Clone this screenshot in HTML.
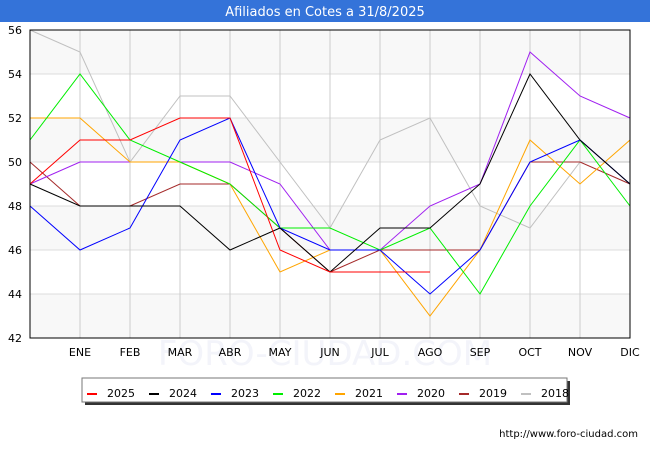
<!DOCTYPE html>
<html><head><meta charset="utf-8"><style>
body{margin:0;background:#fff;font-family:"Liberation Sans","DejaVu Sans",sans-serif}
#wrap{position:relative;width:650px;height:450px}
</style></head><body>
<div id="wrap">
<svg id="chart" width="650" height="450" xmlns="http://www.w3.org/2000/svg">
<rect x="0" y="0" width="650" height="22" fill="#3473d9"/>
<text x="325" y="16" fill="#fff" font-size="13" text-anchor="middle" font-family="DejaVu Sans, sans-serif">Afiliados en Cotes a 31/8/2025</text>
<g id="plot"></g>
<text x="638" y="437" font-size="10" text-anchor="end" font-family="DejaVu Sans, sans-serif" fill="#000">http://www.foro-ciudad.com</text>
</svg>
</div>
<script>
const months = ["","ENE","FEB","MAR","ABR","MAY","JUN","JUL","AGO","SEP","OCT","NOV","DIC"];
const yTicks = [42,44,46,48,50,52,54,56];
const seriesNames = ["2025","2024","2023","2022","2021","2020","2019","2018"];
const seriesColors = ["#ff0000","#000000","#0000ff","#00ee00","#ffa500","#a020f0","#a52a2a","#c0c0c0"];
const s2025 = [49,51,51,52,52,46,45,45,45];
const s2024 = [49,48,48,48,46,47,45,47,47,49,54,51,49];
const s2023 = [48,46,47,51,52,47,46,46,44,46,50,51,49];
const s2022 = [51,54,51,50,49,47,47,46,47,44,48,51,48];
const s2021 = [52,52,50,50,49,45,46,46,43,46,51,49,51];
const s2020 = [49,50,50,50,50,49,46,46,48,49,55,53,52];
const s2019 = [50,48,48,49,49,47,45,46,46,46,50,50,49];
const s2018 = [56,55,50,53,53,50,47,51,52,48,47,50,50];
const allSeries = [s2025,s2024,s2023,s2022,s2021,s2020,s2019,s2018];

const NS="http://www.w3.org/2000/svg";
const L=30,R=630,T=30,B=338,yMin=42,yMax=56;
const x = i => L + i*(R-L)/12;
const y = v => B - (v-yMin)*(B-T)/(yMax-yMin);
const g=document.getElementById('plot');
function mk(tag,attrs){const e=document.createElementNS(NS,tag);for(const k in attrs)e.setAttribute(k,attrs[k]);g.appendChild(e);return e;}

for(let i=0;i<yTicks.length-1;i++){
  if(i%2===0){
    const b=mk('rect',{x:L,y:y(yTicks[i+1]),width:R-L,height:y(yTicks[i])-y(yTicks[i+1]),fill:'#f8f8f8'});
    
    
  }
}
const wm=mk('text',{x:325,y:365,'font-size':34,'text-anchor':'middle',fill:'#f3f4fa','font-family':'DejaVu Sans, sans-serif'});
wm.textContent='FORO-CIUDAD.COM';


yTicks.forEach(v=>{
  const l=mk('line',{x1:L,x2:R,y1:y(v),y2:y(v),stroke:'#dddddd','stroke-width':1});
  
  
  const t=mk('text',{x:L-8,y:y(v)+4,'font-size':11,'text-anchor':'end','font-family':'DejaVu Sans, sans-serif'});
  t.textContent=v;
  
  
});
months.forEach((m,i)=>{
  if(i>0){
    const l=mk('line',{x1:x(i),x2:x(i),y1:T,y2:B,stroke:'#cccccc','stroke-width':1});
    
    
    const t=mk('text',{x:x(i),y:356,'font-size':11,'text-anchor':'middle','font-family':'DejaVu Sans, sans-serif'});
    t.textContent=m;
    
    
  }
});

for(let s=allSeries.length-1;s>=0;s--){
  const pts=allSeries[s].map((v,i)=>x(i)+','+y(v)).join(' ');
  const p=mk('polyline',{points:pts,fill:'none',stroke:seriesColors[s],'stroke-width':1});
  
  
}
const frame=mk('rect',{x:L,y:T,width:R-L,height:B-T,fill:'none',stroke:'#000','stroke-width':1});



const sh=mk('rect',{x:85,y:381,width:485,height:24,fill:'#333'});


const lb=mk('rect',{x:82,y:378,width:485,height:24,fill:'#fff',stroke:'#777','stroke-width':1});


seriesNames.forEach((n,i)=>{
  const lx=87+i*62;
  const ln=mk('line',{x1:lx,x2:lx+10,y1:394,y2:394,stroke:seriesColors[i],'stroke-width':2});
  
  
  const t=mk('text',{x:lx+20,y:397,'font-size':11,'font-family':'DejaVu Sans, sans-serif'});
  t.textContent=n;
  
  
});
</script>
</body></html>
